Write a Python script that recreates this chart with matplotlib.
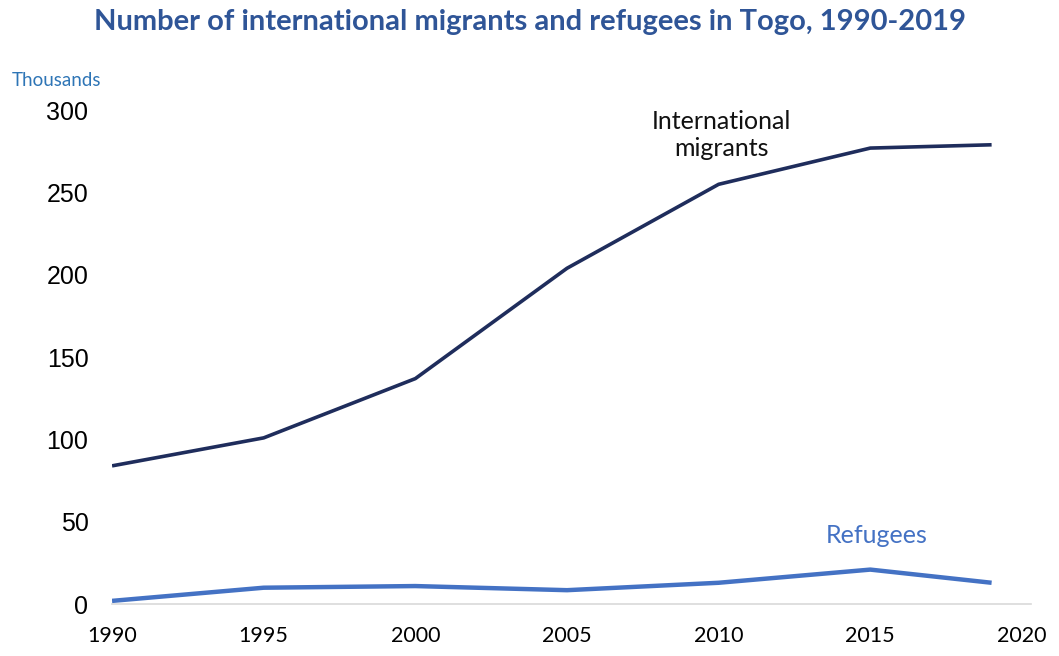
import matplotlib.pyplot as plt

years = [1990, 1995, 2000, 2005, 2010, 2015, 2019]
migrants = [84, 101, 137, 204, 255, 277, 279]
refugees = [2, 10, 11, 8.5, 13, 21, 13]
xticks = [1990, 1995, 2000, 2005, 2010, 2015, 2020]
yticks = [0, 50, 100, 150, 200, 250, 300]

fig = plt.figure(figsize=(10.59, 6.56), dpi=100)
ax = fig.add_axes([0.1058, 0.079, 0.8592, 0.753])

ax.plot(years, migrants, color='#1f2d5c', lw=2.6, solid_capstyle='butt')
ax.plot(years, refugees, color='#4472c4', lw=3.2, solid_capstyle='butt')
ax.axhline(0, color='#d9d9d9', lw=1.2, xmax=1.01, clip_on=False, zorder=0)

ax.set_xlim(1990, 2020)
ax.set_ylim(0, 300)
for s in ax.spines.values():
    s.set_visible(False)
ax.set_xticks(xticks)
ax.set_yticks(yticks)
ax.tick_params(length=0)
ax.tick_params(axis='y', pad=17)
ax.tick_params(axis='x', pad=16)
for t in ax.get_yticklabels():
    t.set_fontfamily('Liberation Sans')
    t.set_fontsize(18)
for t in ax.get_xticklabels():
    t.set_fontfamily('Lato')
    t.set_fontsize(15.5)

ax.text(2010.1, 285, 'International\nmigrants', ha='center', va='center',
        fontsize=18, family='Lato', color='#111111', linespacing=1.25)
ax.text(2015.2, 42, 'Refugees', ha='center', va='center',
        fontsize=18, family='Lato', color='#4472c4')

fig.text(0.5, 0.966, 'Number of international migrants and refugees in Togo, 1990-2019',
         ha='center', va='center', fontsize=21, fontweight='bold',
         family='Lato', color='#2f5597')
fig.text(0.011, 0.878, 'Thousands', ha='left', va='center', fontsize=13.5,
         family='Lato', color='#2e75b6')

fig.savefig('out.png', dpi=100)
